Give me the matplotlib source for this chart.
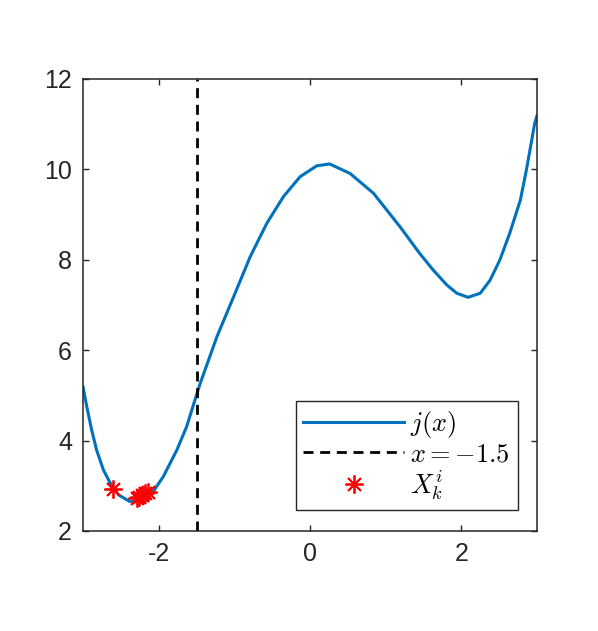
import numpy as np
import matplotlib
matplotlib.use('Agg')
import matplotlib.pyplot as plt

# curve j(x), values
x_vals = [-3.00, -2.95, -2.885, -2.82, -2.73, -2.64, -2.53, -2.38, -2.25, -2.09,
          -1.94, -1.76, -1.63, -1.50, -1.45, -1.23, -1.01, -0.79, -0.57, -0.35,
          -0.13, 0.09, 0.26, 0.53, 0.84, 1.19, 1.45, 1.63, 1.81, 1.94,
          2.09, 2.25, 2.38, 2.51, 2.64, 2.78, 2.86, 2.97, 3.00]
j_vals = [5.19, 4.75, 4.23, 3.79, 3.35, 3.06, 2.80, 2.65, 2.69, 2.83,
          3.20, 3.79, 4.31, 5.01, 5.27, 6.30, 7.18, 8.07, 8.81, 9.40,
          9.84, 10.08, 10.12, 9.91, 9.47, 8.73, 8.14, 7.77, 7.44, 7.26,
          7.17, 7.26, 7.55, 8.00, 8.59, 9.32, 9.99, 11.02, 11.19]

# sample points X_k^i
star_x = [-2.60, -2.29, -2.26, -2.22, -2.18, -2.14]
star_y = [2.94, 2.72, 2.76, 2.80, 2.85, 2.87]

x_line = -1.5

xticks = [-2, 0, 2]
yticks = [2, 4, 6, 8, 10, 12]

plt.rcParams['font.family'] = ['Liberation Sans', 'DejaVu Sans']
plt.rcParams['mathtext.fontset'] = 'cm'
plt.rcParams['axes.unicode_minus'] = False

fig = plt.figure(figsize=(5.98, 6.31), dpi=100)
ax = fig.add_axes([83/598, 1-531/631, 454/598, 452/631])

dark = '#262626'
ax.plot(x_vals, j_vals, color='#0072BD', lw=2.2, label=r'$j(x)$')
ax.axvline(x_line, color='black', lw=2.0, dashes=(3.6, 2.4), label=r'$x=-1.5$')
ax.plot(star_x, star_y, ls='none', marker=(8, 2, 0), color='red', ms=13, mew=1.3,
        label=r'$X_k^i$')

ax.set_xlim(-3, 3)
ax.set_ylim(2, 12)
ax.set_xticks(xticks)
ax.set_yticks(yticks)
ax.tick_params(direction='in', length=4, width=1, top=True, right=True,
               labelsize=18, colors=dark, pad=8)
for s in ax.spines.values():
    s.set_linewidth(1.1)
    s.set_color(dark)

leg = ax.legend(loc='lower right', bbox_to_anchor=(0.958, 0.046), borderaxespad=0,
                fontsize=19, handlelength=3.8, handletextpad=0.25, labelspacing=0.08,
                fancybox=False, framealpha=1, edgecolor=dark, borderpad=0.3)
leg.get_frame().set_linewidth(1.0)

fig.savefig('out.png', dpi=100)
